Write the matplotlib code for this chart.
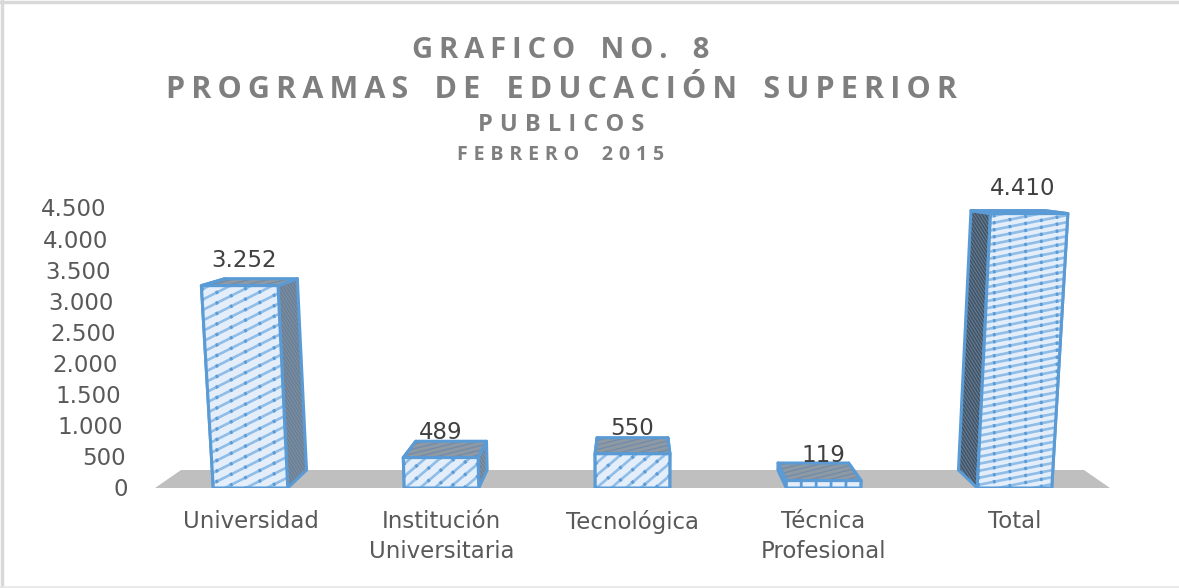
import numpy as np
import matplotlib
matplotlib.use('Agg')
import matplotlib.pyplot as plt
from matplotlib.patches import Polygon
from matplotlib.lines import Line2D
from matplotlib.transforms import IdentityTransform

categories = ["Universidad", "Institución\nUniversitaria", "Tecnológica", "Técnica\nProfesional", "Total"]
values = [3252, 489, 550, 119, 4410]
value_labels = ["3.252", "489", "550", "119", "4.410"]
y_ticks = [0, 500, 1000, 1500, 2000, 2500, 3000, 3500, 4000, 4500]
y_tick_labels = ["0", "500", "1.000", "1.500", "2.000", "2.500", "3.000", "3.500", "4.000", "4.500"]
title_lines = ["GRAFICO NO. 8", "PROGRAMAS DE EDUCACIÓN SUPERIOR", "PUBLICOS", "FEBRERO 2015"]

W, H = 1179, 588
BLUE = "#5b9bd5"
BAR_W = 0.39
# perspective of the 3D box, in data units
VX, VY = 2.0, 5305
DEPTH = 0.0545
SPREAD = 8.7e-6


def spaced(s, gap):
    # letter spacing through thin spaces
    return gap.join(s).replace(gap + " " + gap, gap + gap + " " + gap)


def front(x, v):
    return VX + (x - VX) * (1 + SPREAD * v), v


def back(x, v):
    fx, fy = front(x, v)
    return fx + DEPTH * (VX - fx), fy + DEPTH * (VY - fy)


def hatch(ax, poly, slope, step, color, lw, dots=None):
    # shallow slanted lines clipped to the face
    pts = ax.transData.transform(poly.get_xy())
    x0, x1 = pts[:, 0].min(), pts[:, 0].max()
    y0, y1 = pts[:, 1].min(), pts[:, 1].max()
    span = slope * (x1 - x0)
    for c in np.arange(y0 - abs(span) - step, y1 + abs(span) + step, step):
        ln = Line2D([x0, x1], [c, c + span], color=color, lw=lw, transform=IdentityTransform(), zorder=poly.get_zorder())
        ax.add_line(ln)
        ln.set_clip_path(poly)
        if dots:
            dl = Line2D([x0, x1], [c, c + span], color=BLUE, lw=2.4, linestyle=(0, (0.8, dots)), transform=IdentityTransform(), zorder=poly.get_zorder())
            ax.add_line(dl)
            dl.set_clip_path(poly)


def face(ax, xy, fc, z):
    p = Polygon(xy, closed=True, facecolor=fc, edgecolor="none", zorder=z)
    ax.add_patch(p)
    return p


def outline(ax, xy, z):
    ax.add_patch(Polygon(xy, closed=True, fill=False, edgecolor=BLUE, lw=2.2, joinstyle="round", zorder=z))


fig = plt.figure(figsize=(W / 100, H / 100), dpi=100, facecolor="white")
# chart frame, only three sides show in the crop
fig.add_artist(Line2D([0, 1], [1 - 2 / H] * 2, color="#d9d9d9", lw=2.5, transform=fig.transFigure))
fig.add_artist(Line2D([2 / W] * 2, [0, 1], color="#d9d9d9", lw=2.5, transform=fig.transFigure))
fig.add_artist(Line2D([0, 1], [1 / H] * 2, color="#e6e6e6", lw=1.2, transform=fig.transFigure))

ax = fig.add_axes([155 / W, 1 - 488 / H, 955 / W, 280 / H])
ax.set_xlim(-0.5, 4.5)
ax.set_ylim(0, 4500)
ax.patch.set_alpha(0)
for s in ax.spines.values():
    s.set_visible(False)

ax.set_xticks(range(5))
ax.set_xticklabels(categories, fontsize=16.5, color="#595959", linespacing=1.4)
ax.set_yticks(y_ticks)
ax.set_yticklabels([])
ax.tick_params(length=0)
ax.tick_params(axis="x", pad=15.5)

# floor
floor = [(-0.5, 0), (4.5, 0), back(4.5, 0), back(-0.5, 0)]
face(ax, floor, "#bfbfbf", 1)

# per bar hatch: front slope, front step, side colour
bar_styles = [
    (0.5, 10.5, "#7f8b98"),
    (0.85, 12.5, "#87929e"),
    (0.85, 12.5, "#87929e"),
    (0.0, 6.0, "#87929e"),
    (0.2, 7.0, "#46525e"),
]

for i, v in enumerate(values):
    l, r = i - BAR_W / 2, i + BAR_W / 2
    z = 3 + i * 0.1
    lq = [front(l, 0), front(l, v), back(l, v), back(l, 0)]
    rq = [front(r, 0), front(r, v), back(r, v), back(r, 0)]
    tq = [front(l, v), front(r, v), back(r, v), back(l, v)]
    fq = [front(l, 0), front(r, 0), front(r, v), front(l, v)]
    slope, step, side = bar_styles[i]
    for q in (lq, rq):
        p = face(ax, q, side, z)
        hatch(ax, p, -1.6, 5, "#5f7f9f", 0.8)
        outline(ax, q, z + 0.01)
    z += 0.02
    p = face(ax, tq, "#8f99a3", z)
    hatch(ax, p, 0.25, 4.5, "#6f8cab", 0.9)
    outline(ax, tq, z + 0.01)
    z += 0.02
    p = face(ax, fq, "#e3eefa", z)
    if i == 3:
        # the short bar only shows blocks
        for k in range(1, 5):
            bx = l + BAR_W * k / 5
            ax.plot(*zip(front(bx, 0), front(bx, v)), color=BLUE, lw=2, zorder=z + 0.005)
    else:
        hatch(ax, p, slope, step, "#8fbde8", 1.9, dots=4)
    outline(ax, fq, z + 0.01)
    lx = VX + (i - VX) * (1 + SPREAD * v * 0.55)
    ax.annotate(value_labels[i], xy=(lx, v), xytext=(0, 18.2), textcoords="offset points",
                ha="center", va="center", fontsize=16.5, color="#404040", zorder=10, annotation_clip=False)

# value axis labels lean with the perspective
for t, lab in zip(y_ticks, y_tick_labels):
    ax.annotate(lab, xy=(-0.5, t), xytext=((128 - t * 22 / 4500 - 155) * 0.72, -1.4), textcoords="offset points",
                ha="right", va="center", fontsize=16.5, color="#595959", annotation_clip=False)

title_sizes = [21, 22, 17, 14]
title_gaps = ["\u2009", "\u2009", "\u2009\u200a", "\u2009\u200a"]
title_y = [50.5, 89.5, 125, 155.5]
for s, fs, gap, y in zip(title_lines, title_sizes, title_gaps, title_y):
    fig.text(561 / W, 1 - y / H, spaced(s, gap), ha="center", va="center", fontsize=fs, fontweight="bold",
             color="#7f7f7f", family=["Open Sans", "DejaVu Sans"])

fig.savefig("out.png", dpi=100)
